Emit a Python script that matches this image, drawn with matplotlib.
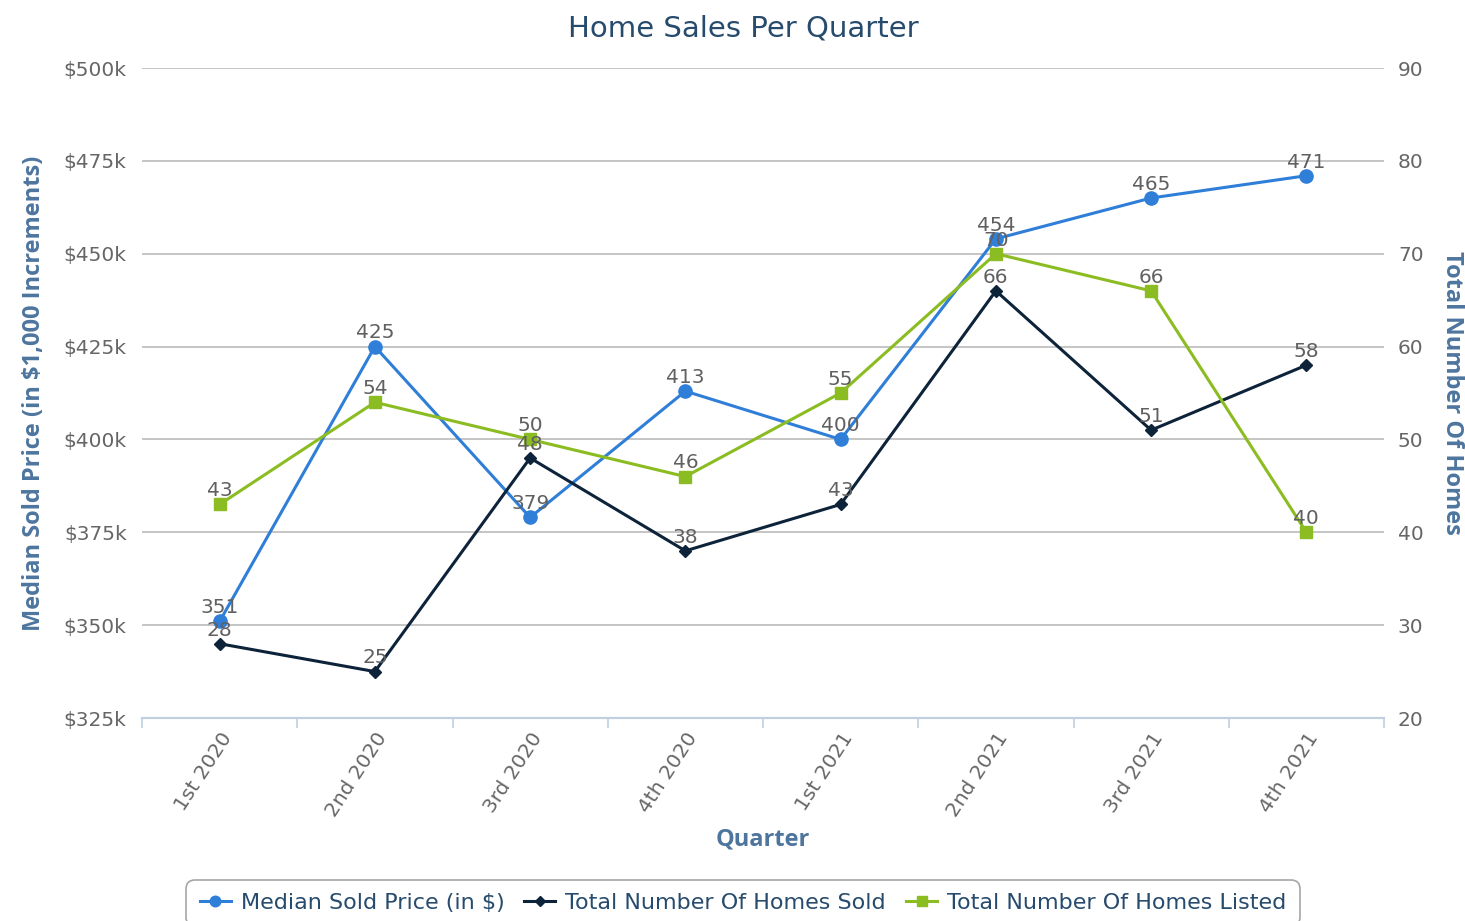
import matplotlib
matplotlib.use("Agg")
import matplotlib.pyplot as plt
from matplotlib.ticker import FuncFormatter, FixedLocator

quarters = ["1st 2020", "2nd 2020", "3rd 2020", "4th 2020",
            "1st 2021", "2nd 2021", "3rd 2021", "4th 2021"]
median_price_k = [351, 425, 379, 413, 400, 454, 465, 471]
homes_sold = [28, 25, 48, 38, 43, 66, 51, 58]
homes_listed = [43, 54, 50, 46, 55, 70, 66, 40]
left_ticks = [325, 350, 375, 400, 425, 450, 475, 500]
right_ticks = [20, 30, 40, 50, 60, 70, 80, 90]

C_BLUE = "#2f7ed8"
C_NAVY = "#0d233a"
C_GREEN = "#8bbc21"
C_TICK = "#666666"
C_AXT = "#4d759e"
C_TITLE = "#274b6d"
C_DL = "#606060"

plt.rcParams['font.family'] = ['DejaVu Sans']

W, H = 1465, 921
fig = plt.figure(figsize=(W / 100, H / 100), dpi=100)
L, R, T, B = 142, 1384, 68, 718
ax = fig.add_axes([L / W, 1 - B / H, (R - L) / W, (B - T) / H])
ax2 = ax.twinx()

x = list(range(len(quarters)))

ax.set_xlim(-0.5, len(quarters) - 0.5)
ax.set_ylim(left_ticks[0], left_ticks[-1])
ax2.set_ylim(right_ticks[0], right_ticks[-1])

TS = 14.5  # tick / data label size

ax.set_yticks(left_ticks)
ax.yaxis.set_major_formatter(FuncFormatter(lambda v, p: f"${int(v)}k"))
ax.grid(axis='y', color='#C0C0C0', linewidth=1.3)
ax.set_axisbelow(True)
ax2.set_yticks(right_ticks)

for a in (ax, ax2):
    for s in ('top', 'left', 'right'):
        a.spines[s].set_visible(False)
    a.spines['bottom'].set_color('#C0D0E0')
    a.spines['bottom'].set_linewidth(1.5)

ax.tick_params(axis='y', length=0, pad=11, labelsize=TS, labelcolor=C_TICK)
ax2.tick_params(axis='y', length=0, pad=10, labelsize=TS, labelcolor=C_TICK)

ax.set_xticks(x)
ax.set_xticklabels(quarters, rotation=57, ha='right', va='top',
                   rotation_mode='anchor')
ax.xaxis.set_minor_locator(FixedLocator([i - 0.5 for i in range(len(quarters) + 1)]))
ax.tick_params(axis='x', which='major', length=0, pad=8, labelsize=TS,
               labelcolor=C_TICK)
ax.tick_params(axis='x', which='minor', length=7, width=1.2, color='#C0D0E0')

ax.plot(x, median_price_k, color=C_BLUE, lw=2.2, marker='o', ms=9.5,
        label="Median Sold Price (in $)", zorder=3, clip_on=False)
l2, = ax2.plot(x, homes_sold, color=C_NAVY, lw=2.2, marker='D', ms=6.5,
               label="Total Number Of Homes Sold", zorder=3, clip_on=False)
l3, = ax2.plot(x, homes_listed, color=C_GREEN, lw=2.2, marker='s', ms=9,
               label="Total Number Of Homes Listed", zorder=4, clip_on=False)

OFF = 3.0
for i, v in enumerate(median_price_k):
    ax.annotate(str(v), (i, v), xytext=(0, OFF), textcoords='offset points',
                ha='center', va='bottom', fontsize=TS, color=C_DL, zorder=6)
for i, v in enumerate(homes_sold):
    ax2.annotate(str(v), (i, v), xytext=(0, OFF), textcoords='offset points',
                 ha='center', va='bottom', fontsize=TS, color=C_DL, zorder=6)
for i, v in enumerate(homes_listed):
    ax2.annotate(str(v), (i, v), xytext=(0, OFF), textcoords='offset points',
                 ha='center', va='bottom', fontsize=TS, color=C_DL, zorder=6)

AS = 17
ax.set_ylabel("Median Sold Price (in $1,000 Increments)", color=C_AXT,
              fontsize=AS, fontweight='bold', family='Open Sans')
ax.yaxis.set_label_coords(-0.077, 0.5)
ax2.set_ylabel("Total Number Of Homes", color=C_AXT, fontsize=AS,
               fontweight='bold', rotation=270, va='center', family='Open Sans')
ax2.yaxis.set_label_coords(1.055, 0.5)
ax.set_xlabel("Quarter", color=C_AXT, fontsize=AS, fontweight='bold',
              family='Open Sans')
ax.xaxis.set_label_coords(0.5, -0.169)

fig.text(743 / W, 1 - 28 / H, "Home Sales Per Quarter", ha='center', va='center',
         fontsize=21, color=C_TITLE)

h1, lab1 = ax.get_legend_handles_labels()
leg = fig.legend(h1 + [l2, l3], lab1 + [l2.get_label(), l3.get_label()],
                 loc='center', bbox_to_anchor=(743 / W, 1 - 903 / H),
                 ncol=3, frameon=True, fontsize=16, handlelength=1.4,
                 columnspacing=0.9, handletextpad=0.45, borderpad=0.6,
                 fancybox=True, edgecolor='#909090', labelcolor=C_TITLE)
leg.get_frame().set_linewidth(1.2)
leg.get_frame().set_boxstyle('round', pad=0, rounding_size=0.4)
for hnd in leg.legend_handles:
    hnd.set_markersize(hnd.get_markersize() * 0.8)

fig.savefig("out.png", dpi=100)
